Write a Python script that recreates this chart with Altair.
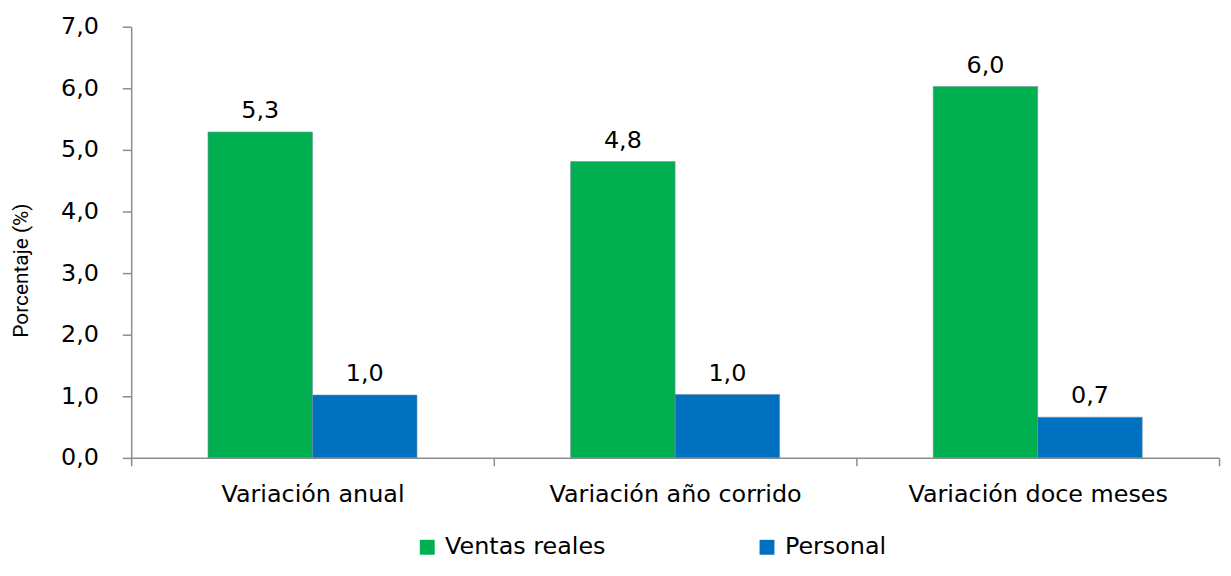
import altair as alt
import pandas as pd

categorias = ["Variación anual", "Variación año corrido", "Variación doce meses"]
series = ["Ventas reales", "Personal"]
ventas_reales = [5.29, 4.81, 6.03]
personal = [1.02, 1.03, 0.66]
colores = ["#00B050", "#0070C0"]
y_ticks = [0, 1, 2, 3, 4, 5, 6, 7]

rows = []
for i, c in enumerate(categorias):
    rows.append({"categoria": c, "serie": series[0], "valor": ventas_reales[i]})
    rows.append({"categoria": c, "serie": series[1], "valor": personal[i]})
df = pd.DataFrame(rows)

FONT = "DejaVu Sans"
AXIS_COLOR = "#8c8c8c"

base = alt.Chart(df).transform_calculate(
    label="replace(format(datum.valor, '.1f'), '.', ',')"
).encode(
    x=alt.X(
        "categoria:N",
        sort=categorias,
        title=None,
        scale=alt.Scale(paddingInner=0, paddingOuter=0),
        axis=alt.Axis(
            labelAngle=0,
            tickBand="extent",
            labelFont=FONT,
            labelFontSize=24,
            labelLimit=0,
            labelColor="#000000",
            labelPadding=17,
            domainColor=AXIS_COLOR,
            domainWidth=1.5,
            tickColor=AXIS_COLOR,
            tickWidth=1.5,
            tickSize=8,
            grid=False,
        ),
    ),
    xOffset=alt.XOffset(
        "serie:N",
        sort=series,
        scale=alt.Scale(paddingOuter=0.735, paddingInner=0),
    ),
    y=alt.Y(
        "valor:Q",
        scale=alt.Scale(domain=[0, 7], nice=False),
        axis=alt.Axis(
            values=y_ticks,
            labelExpr="replace(format(datum.value, '.1f'), '.', ',')",
            labelFont=FONT,
            labelFontSize=24,
            labelColor="#000000",
            labelPadding=24,
            domainColor=AXIS_COLOR,
            domainWidth=1.5,
            tickColor=AXIS_COLOR,
            tickWidth=1.5,
            tickSize=9,
            grid=False,
            title="Porcentaje (%)",
            titleFont="Roboto",
            titleFontSize=21,
            titleFontWeight="normal",
            titleColor="#000000",
            titleX=-100,
            titleY=245,
        ),
    ),
)

bars = base.mark_bar(stroke="#6f8f9f", strokeWidth=0.6).encode(
    color=alt.Color(
        "serie:N",
        sort=series,
        scale=alt.Scale(domain=series, range=colores),
        legend=alt.Legend(
            title=None,
            orient="none",
            direction="horizontal",
            legendX=286,
            legendY=512,
            symbolType="square",
            symbolSize=225,
            symbolStrokeWidth=0,
            symbolOpacity=1,
            labelFont=FONT,
            labelFontSize=24,
            labelLimit=0,
            labelColor="#000000",
            labelOffset=6,
            columnPadding=150,
        ),
    )
)

text = base.mark_text(
    baseline="alphabetic", dy=-14, font=FONT, fontSize=24, color="#000000"
).encode(text="label:N")

chart = (
    alt.layer(bars, text)
    .properties(
        width=1095,
        height=434,
        autosize=alt.AutoSizeParams(type="none"),
        padding={"left": 124, "top": 17, "right": 4, "bottom": 104},
    )
    .configure_view(stroke=None)
)

chart.save("out.html", embed_options={"renderer": "svg", "actions": False})
